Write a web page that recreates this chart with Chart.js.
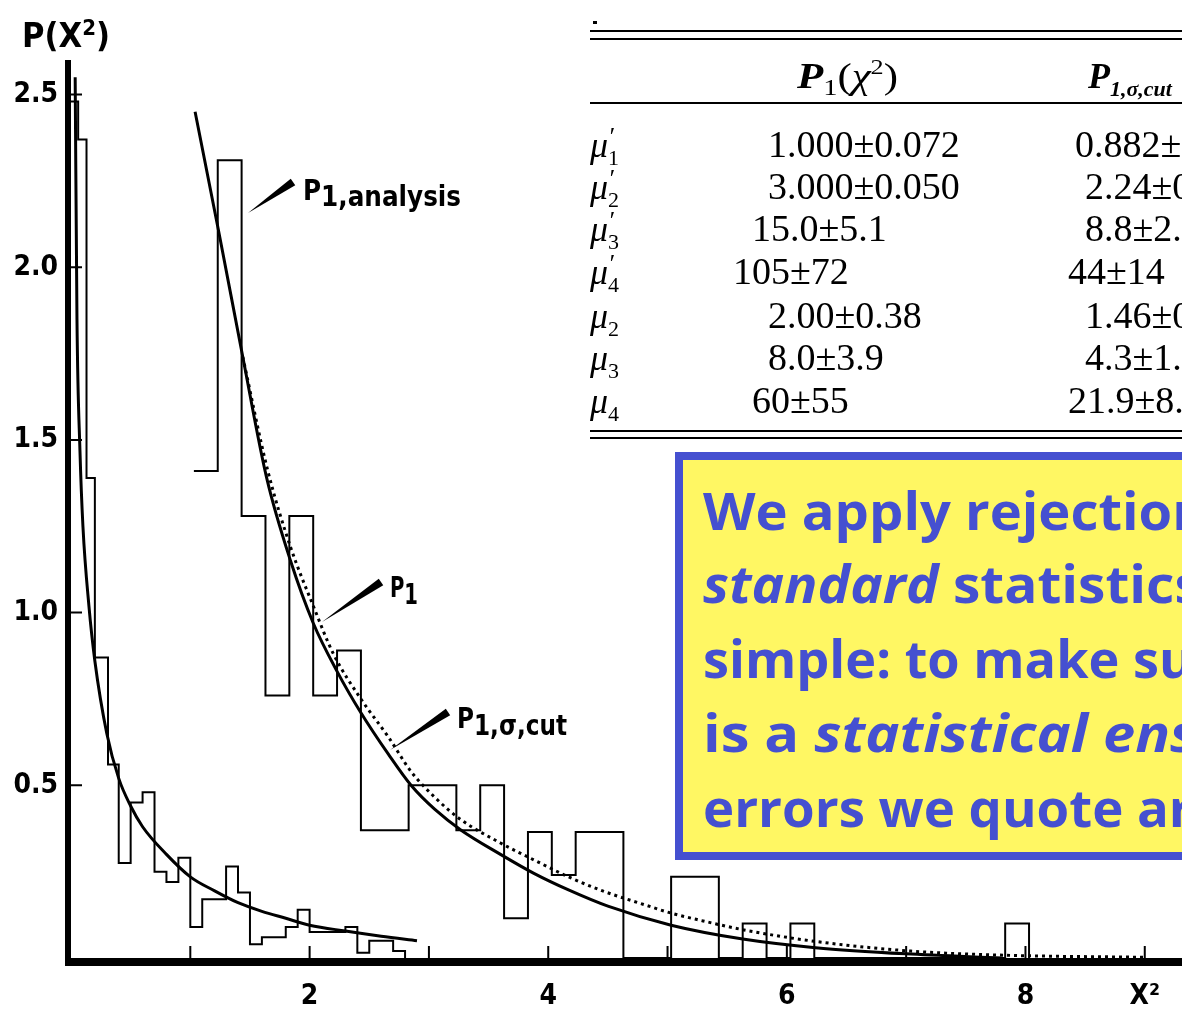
<!DOCTYPE html>
<html><head><meta charset="utf-8">
<script src="https://cdn.jsdelivr.net/npm/chart.js@4.4.1/dist/chart.umd.min.js"></script>
<style>html,body{margin:0;padding:0;background:#fff;}canvas{display:block;}</style>
</head><body>
<canvas id="c" width="1182" height="1013"></canvas>
<script>
// ---------- data ----------
// narrow-bin histogram (near x = 0)
const hist1Edges   = [0, 0.06, 0.13, 0.2, 0.31, 0.4, 0.5, 0.6, 0.7, 0.8, 0.9, 1.0, 1.1, 1.3, 1.4, 1.5, 1.6, 1.8, 1.9, 2.0, 2.3, 2.4, 2.5, 2.7, 2.8];
const hist1Heights = [2.48, 2.37, 1.39, 0.87, 0.56, 0.275, 0.45, 0.48, 0.25, 0.22, 0.29, 0.09, 0.17, 0.265, 0.19, 0.04, 0.06, 0.09, 0.14, 0.075, 0.09, 0.015, 0.05, 0.02];
// P1,analysis histogram (wider bins)
const hist2Edges   = [1.03, 1.23, 1.43, 1.63, 1.83, 2.03, 2.23, 2.43, 2.83, 3.23, 3.43, 3.63, 3.83, 4.03, 4.23, 4.63, 5.03, 5.43, 5.63, 5.83, 6.03, 6.23, 7.83, 8.03];
const hist2Heights = [1.41, 2.31, 1.28, 0.76, 1.28, 0.76, 0.89, 0.37, 0.50, 0.37, 0.50, 0.115, 0.365, 0.24, 0.365, 0, 0.235, 0, 0.10, 0, 0.10, 0, 0.10];
// solid curve fitted to the narrow histogram
const fit1X = [0.035, 0.05, 0.075, 0.1, 0.15, 0.2, 0.3, 0.4, 0.5, 0.6, 0.8, 1.0, 1.2, 1.4, 1.6, 1.8, 2.0, 2.3, 2.6, 2.9];
const fit1Y = [2.55, 1.85, 1.47, 1.25, 1.02, 0.86, 0.65, 0.52, 0.44, 0.38, 0.30, 0.235, 0.195, 0.16, 0.135, 0.115, 0.095, 0.078, 0.063, 0.05];
// solid curve P1,sigma,cut
const cutX = [1.04, 1.24, 1.44, 1.64, 1.84, 2.03, 2.23, 2.43, 2.66, 2.85, 3.05, 3.27, 3.6, 3.88, 4.17, 4.5, 5.03, 5.63, 6.24, 7.0, 7.8];
const cutY = [2.45, 2.10, 1.74, 1.39, 1.15, 0.97, 0.83, 0.71, 0.59, 0.50, 0.43, 0.37, 0.30, 0.245, 0.197, 0.15, 0.095, 0.055, 0.03, 0.012, 0.0];
// dotted curve P1
const p1X = [1.44, 1.65, 1.84, 2.03, 2.2, 2.43, 2.66, 2.85, 3.05, 3.27, 3.6, 3.88, 4.17, 4.45, 4.8, 5.03, 5.29, 5.63, 6.24, 7.04, 7.83, 9.0];
const p1Y = [1.74, 1.41, 1.19, 1.02, 0.88, 0.75, 0.64, 0.54, 0.465, 0.40, 0.333, 0.284, 0.235, 0.195, 0.155, 0.13, 0.108, 0.082, 0.048, 0.02, 0.008, 0.002];
// axes ticks
const xTickValues = [1, 2, 3, 4, 5, 6, 7, 8, 9];
const xTickLabels = ['', '2', '', '4', '', '6', '', '8', 'X²'];
const yTickValues = [0.5, 1.0, 1.5, 2.0, 2.5];
const yTickLabels = ['0.5', '1.0', '1.5', '2.0', '2.5'];
// table
const tableRowIndex = ['1', '2', '3', '4', '2', '3', '4'];
const tableRowPrime = [true, true, true, true, false, false, false];
const tableCol1 = ['1.000±0.072', '3.000±0.050', '15.0±5.1', '105±72', '2.00±0.38', '8.0±3.9', '60±55'];
const tableCol2 = ['0.882±', '2.24±0', '8.8±2.', '44±14', '1.46±0', '4.3±1.', '21.9±8.'];

// ---------- build library tables ----------
// stepped:'before' draws horizontally at the previous value, then vertically
function histPoints(edges, h, dropEnd) {
  const pts = edges.slice(0, -1).map((e, i) => ({x: e, y: h[i]}));
  pts.push({x: edges[edges.length - 1], y: dropEnd ? 0 : h[h.length - 1]});
  return pts;
}
const zip = (xs, ys) => xs.map((v, i) => ({x: v, y: ys[i]}));

const NARROW = '"Liberation Sans Narrow", "DejaVu Sans Condensed", "Liberation Sans", sans-serif';
const SERIF = '"Liberation Serif", "DejaVu Serif", serif';
const BOXF = '"Open Sans", Lato, "DejaVu Sans", sans-serif';
const BLUE = '#4550D0', YELLOW = '#FFF763';

function drawRuns(ctx, x, y, runs, fitW, fitN) {
  let fitTotal = 0;
  runs.forEach((r, i) => { ctx.font = r.font; r.w = ctx.measureText(r.t).width; if (i < (fitN || runs.length) && !r.noAdv) fitTotal += r.w; });
  const sx = fitW ? fitW / fitTotal : 1;
  ctx.save(); ctx.translate(x, y); ctx.scale(sx, 1);
  let cx = 0;
  runs.forEach(r => { ctx.font = r.font; ctx.fillText(r.t, cx, r.dy || 0); if (!r.noAdv) cx += r.w; });
  ctx.restore();
}
function wedge(ctx, ax, ay, bx, by, hw) {
  const dx = bx - ax, dy = by - ay, L = Math.hypot(dx, dy);
  const nx = -dy / L * hw, ny = dx / L * hw;
  ctx.beginPath(); ctx.moveTo(ax, ay); ctx.lineTo(bx + nx, by + ny); ctx.lineTo(bx - nx, by - ny); ctx.closePath(); ctx.fill();
}

const overlay = {
  id: 'overlay',
  afterDraw(chart) {
    const ctx = chart.ctx, xs = chart.scales.x, ys = chart.scales.y;
    const X0 = xs.getPixelForValue(0), Y0 = ys.getPixelForValue(0), Ytop = ys.getPixelForValue(2.6);
    ctx.save();
    ctx.fillStyle = '#000'; ctx.strokeStyle = '#000';
    // thick axes
    ctx.fillRect(X0 - 6, Ytop, 6, Y0 + 8 - Ytop);
    ctx.fillRect(X0 - 6, Y0, chart.width - X0 + 6, 8);
    // inward tick marks
    ctx.lineWidth = 2;
    ctx.beginPath();
    yTickValues.forEach(v => { const py = ys.getPixelForValue(v); ctx.moveTo(X0, py); ctx.lineTo(X0 + 11, py); });
    xTickValues.forEach(v => { const px = xs.getPixelForValue(v); ctx.moveTo(px, Y0); ctx.lineTo(px, Y0 - 12); });
    ctx.stroke();
    // y axis title
    ctx.textBaseline = 'alphabetic'; ctx.textAlign = 'left';
    drawRuns(ctx, 22, 47, [{t: 'P(X', font: 'bold 34px ' + NARROW}, {t: '2', font: 'bold 22px ' + NARROW, dy: -12}, {t: ')', font: 'bold 34px ' + NARROW}], 88);
    // curve labels
    wedge(ctx, 248, 213, 293, 182, 4);
    drawRuns(ctx, 303, 200, [{t: 'P', font: 'bold 28px ' + NARROW}, {t: '1,analysis', font: 'bold 28px ' + NARROW, dy: 6}], 158);
    wedge(ctx, 322, 622, 381, 582, 4);
    drawRuns(ctx, 390, 597, [{t: 'P', font: 'bold 28px ' + NARROW}, {t: '1', font: 'bold 28px ' + NARROW, dy: 7}], 28);
    wedge(ctx, 390, 750, 448, 712, 4);
    drawRuns(ctx, 457, 728, [{t: 'P', font: 'bold 28px ' + NARROW}, {t: '1,σ,cut', font: 'bold 28px ' + NARROW, dy: 7}], 110);

    // ---- table ----
    ctx.fillRect(593, 21, 4, 3);
    ctx.fillRect(590, 30, 600, 2);
    ctx.fillRect(590, 38, 600, 2);
    ctx.fillRect(590, 102, 600, 2);
    ctx.fillRect(590, 430, 600, 2);
    ctx.fillRect(590, 437, 600, 2);
    drawRuns(ctx, 797, 88, [{t: 'P', font: 'italic bold 36px ' + SERIF}, {t: '1', font: '24px ' + SERIF, dy: 7}, {t: '(', font: '36px ' + SERIF}, {t: 'χ', font: 'italic 36px ' + SERIF}, {t: '2', font: '22px ' + SERIF, dy: -14}, {t: ')', font: '36px ' + SERIF}], 101);
    drawRuns(ctx, 1088, 88, [{t: 'P', font: 'italic bold 36px ' + SERIF}, {t: '1,σ,cut', font: 'italic bold 22px ' + SERIF, dy: 8}]);
    const rowBase = [157, 199, 241, 284, 328, 370, 413];
    const col1X = [768, 768, 752, 733, 768, 768, 752];
    const col2X = [1075, 1085, 1085, 1068, 1085, 1085, 1068];
    tableRowIndex.forEach((d, i) => {
      const runs = [{t: 'μ', font: 'italic 36px ' + SERIF}];
      if (tableRowPrime[i]) runs.push({t: '′', font: 'italic 26px ' + SERIF, dy: -12, noAdv: true});
      runs.push({t: d, font: '22px ' + SERIF, dy: 8});
      drawRuns(ctx, 590, rowBase[i], runs);
      ctx.font = '38px ' + SERIF;
      ctx.fillText(tableCol1[i], col1X[i], rowBase[i]);
      ctx.fillText(tableCol2[i], col2X[i], rowBase[i]);
    });

    // ---- yellow note box ----
    ctx.fillStyle = BLUE; ctx.fillRect(675, 452, 600, 408);
    ctx.fillStyle = YELLOW; ctx.fillRect(683, 460, 600, 392);
    ctx.fillStyle = BLUE;
    const B = 'bold 52px ' + BOXF, BI = 'italic bold 52px ' + BOXF;
    drawRuns(ctx, 703, 530, [{t: 'We apply ', font: B}, {t: 'rejection', font: B}], 262, 1);
    drawRuns(ctx, 703, 603, [{t: 'standard ', font: BI}, {t: 'statistics', font: B}], 250, 1);
    drawRuns(ctx, 703, 678, [{t: 'simple: to make ', font: B}, {t: 'sure', font: B}], 430, 1);
    drawRuns(ctx, 703, 752, [{t: 'is a ', font: B}, {t: 'statistical ', font: BI}, {t: 'ensemble', font: BI}], 400, 2);
    drawRuns(ctx, 703, 827, [{t: 'errors we quote ', font: B}, {t: 'are', font: B}], 434, 1);
    ctx.restore();
  }
};

const lineDs = (data, extra) => Object.assign({data, showLine: true, borderColor: '#000', backgroundColor: '#000', pointRadius: 0, fill: false, borderWidth: 2}, extra);

new Chart(document.getElementById('c'), {
  type: 'scatter',
  data: {datasets: [
    lineDs(histPoints(hist1Edges, hist1Heights, true), {label: 'histogram', stepped: 'before', borderWidth: 2}),
    lineDs(histPoints(hist2Edges, hist2Heights, true), {label: 'P1,analysis', stepped: 'before', borderWidth: 2}),
    lineDs(zip(fit1X, fit1Y), {label: 'fit', borderWidth: 3, cubicInterpolationMode: 'monotone'}),
    lineDs(zip(cutX, cutY), {label: 'P1,σ,cut', borderWidth: 3, cubicInterpolationMode: 'monotone'}),
    lineDs(zip(p1X, p1Y), {label: 'P1', borderWidth: 3, borderDash: [3, 4], cubicInterpolationMode: 'monotone'})
  ]},
  options: {
    responsive: false, animation: false, devicePixelRatio: 1,
    layout: {padding: {top: 60, right: 0, left: 0, bottom: 0}},
    plugins: {legend: {display: false}, tooltip: {enabled: false}, title: {display: false}},
    scales: {
      x: {
        type: 'linear', min: 0, max: 9.31,
        grid: {display: false, drawTicks: false}, border: {display: false},
        afterBuildTicks: s => { s.ticks = xTickValues.map(v => ({value: v})); },
        afterFit: s => { s.height = 55; },
        ticks: {padding: 22, color: '#000', maxRotation: 0, autoSkip: false,
          font: {family: NARROW, size: 28, weight: 'bold'},
          callback: v => xTickLabels[xTickValues.indexOf(v)] ?? ''}
      },
      y: {
        type: 'linear', min: 0, max: 2.6,
        grid: {display: false, drawTicks: false}, border: {display: false},
        afterBuildTicks: s => { s.ticks = yTickValues.map(v => ({value: v})); },
        afterFit: s => { s.width = 71; },
        ticks: {padding: 13, color: '#000', autoSkip: false,
          font: {family: NARROW, size: 28, weight: 'bold'},
          callback: v => yTickLabels[yTickValues.indexOf(v)] ?? ''}
      }
    }
  },
  plugins: [overlay]
});
</script></body></html>
